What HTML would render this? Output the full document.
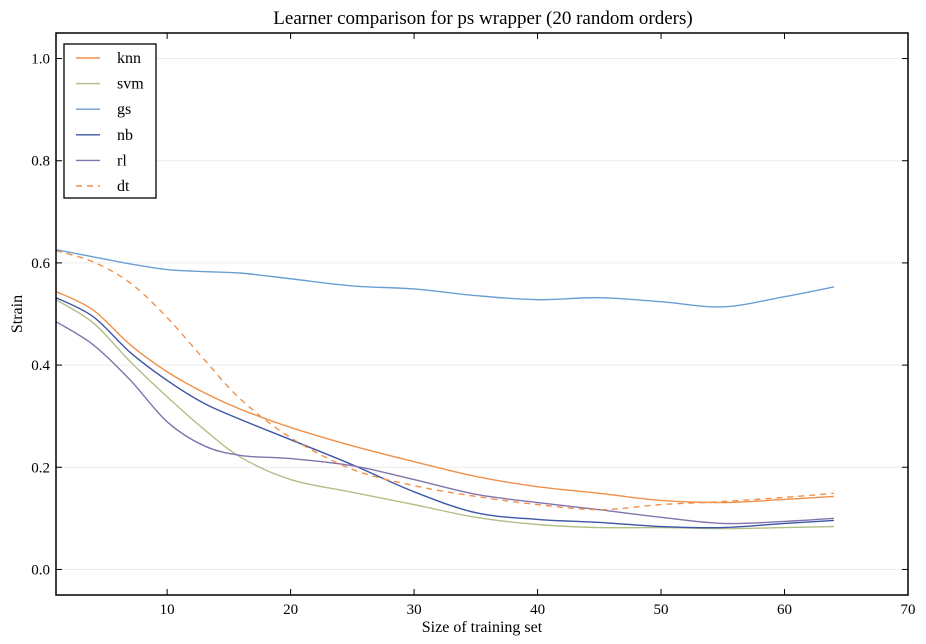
<!DOCTYPE html>
<html><head><meta charset="utf-8"><style>
body{margin:0;background:#fff;}
svg{display:block;font-family:"Liberation Serif",serif;}
</style></head><body>
<svg id="chart" width="926" height="644" viewBox="0 0 926 644" xmlns="http://www.w3.org/2000/svg">
<text x="483" y="24" font-size="19" text-anchor="middle">Learner comparison for ps wrapper (20 random orders)</text>
<text x="482" y="632" font-size="16" text-anchor="middle">Size of training set</text>
<text transform="translate(22,314) rotate(-90)" font-size="16" text-anchor="middle">Strain</text>
<g id="grid"></g><g id="series"></g><g id="axes"></g><g id="legend"></g>
</svg>
<script>
const xs = [1,4,7,10,13,16,20,25,30,35,40,45,50,55,60,64];
const knn = [.544,.508,.44,.387,.346,.313,.278,.242,.211,.182,.162,.149,.135,.131,.137,.143];
const svm = [.528,.483,.407,.338,.274,.219,.176,.151,.127,.102,.088,.082,.082,.080,.082,.084];
const gs  = [.626,.612,.598,.587,.583,.580,.569,.555,.549,.536,.528,.532,.524,.514,.534,.553];
const nb  = [.532,.495,.425,.37,.325,.293,.254,.205,.152,.111,.098,.092,.084,.082,.09,.096];
const rl  = [.485,.44,.371,.289,.242,.223,.217,.203,.176,.147,.131,.117,.102,.09,.094,.1];
const dt  = [.624,.602,.561,.493,.411,.332,.258,.196,.164,.143,.127,.117,.127,.133,.141,.149];
const seriesNames = ["knn","svm","gs","nb","rl","dt"];
const xTicks = [10,20,30,40,50,60,70];
const yTicks = [0.0,0.2,0.4,0.6,0.8,1.0];

const L=56,R=908,T=33,B=595,X0=1,X1=70,Y0=-0.05,Y1=1.05;
const sx=v=>L+(v-X0)/(X1-X0)*(R-L);
const sy=v=>B-(v-Y0)/(Y1-Y0)*(B-T);
const NS="http://www.w3.org/2000/svg";
function mk(t,a,p){const e=document.createElementNS(NS,t);for(const k in a)e.setAttribute(k,a[k]);p.appendChild(e);return e;}
const grid=document.getElementById('grid'),axes=document.getElementById('axes'),ser=document.getElementById('series'),leg=document.getElementById('legend');
yTicks.forEach(v=>{
  const g=mk('line',{x1:L,x2:R,y1:sy(v),y2:sy(v),stroke:'#ececec','stroke-width':1},grid);
  
  
  mk('line',{x1:L,x2:L+6,y1:sy(v),y2:sy(v),stroke:'#000'},axes);
  mk('line',{x1:R,x2:R-6,y1:sy(v),y2:sy(v),stroke:'#000'},axes);
  const t=mk('text',{x:L-6,y:sy(v)+5,'font-size':15,'text-anchor':'end'},axes);
  t.textContent=v.toFixed(1);
  
  
});
xTicks.forEach(v=>{
  mk('line',{x1:sx(v),x2:sx(v),y1:B,y2:B-6,stroke:'#000'},axes);
  mk('line',{x1:sx(v),x2:sx(v),y1:T,y2:T+6,stroke:'#000'},axes);
  const t=mk('text',{x:sx(v),y:B+19,'font-size':15,'text-anchor':'middle'},axes);
  t.textContent=v;
  
  
});
const frame=mk('rect',{x:L,y:T,width:R-L,height:B-T,fill:'none',stroke:'#000','stroke-width':1.5},axes);


function path(vals){
  const p=xs.map((x,i)=>[sx(x),sy(vals[i])]);
  let d=`M${p[0][0]},${p[0][1]}`;
  for(let i=0;i<p.length-1;i++){
    const p0=p[i-1]||p[i],p1=p[i],p2=p[i+1],p3=p[i+2]||p[i+1];
    const c1=[p1[0]+(p2[0]-p0[0])/6,p1[1]+(p2[1]-p0[1])/6];
    const c2=[p2[0]-(p3[0]-p1[0])/6,p2[1]-(p3[1]-p1[1])/6];
    d+=`C${c1[0]},${c1[1]} ${c2[0]},${c2[1]} ${p2[0]},${p2[1]}`;
  }
  return d;
}
const data=[knn,svm,gs,nb,rl,dt];
const colors=['#f0914a','#b1be86','#6b9fd4','#3f56a6','#8173ae','#f0914a'];
data.forEach((vals,i)=>{
  const a={d:path(vals),fill:'none',stroke:colors[i],'stroke-width':1.4};
  if(i===5)a['stroke-dasharray']='6,5';
  const e=mk('path',a,ser);
  
  
});
const box=mk('rect',{x:64,y:44,width:92,height:154,fill:'#fff',stroke:'#000','stroke-width':1.3},leg);


seriesNames.forEach((n,i)=>{
  const y=58+i*25.6;
  const a={x1:76,x2:100,y1:y,y2:y,stroke:colors[i],'stroke-width':1.4};
  if(i===5)a['stroke-dasharray']='6,5';
  mk('line',a,leg);
  const t=mk('text',{x:117,y:y+5,'font-size':16},leg);
  t.textContent=n;
  
  
});
</script>
</body></html>
